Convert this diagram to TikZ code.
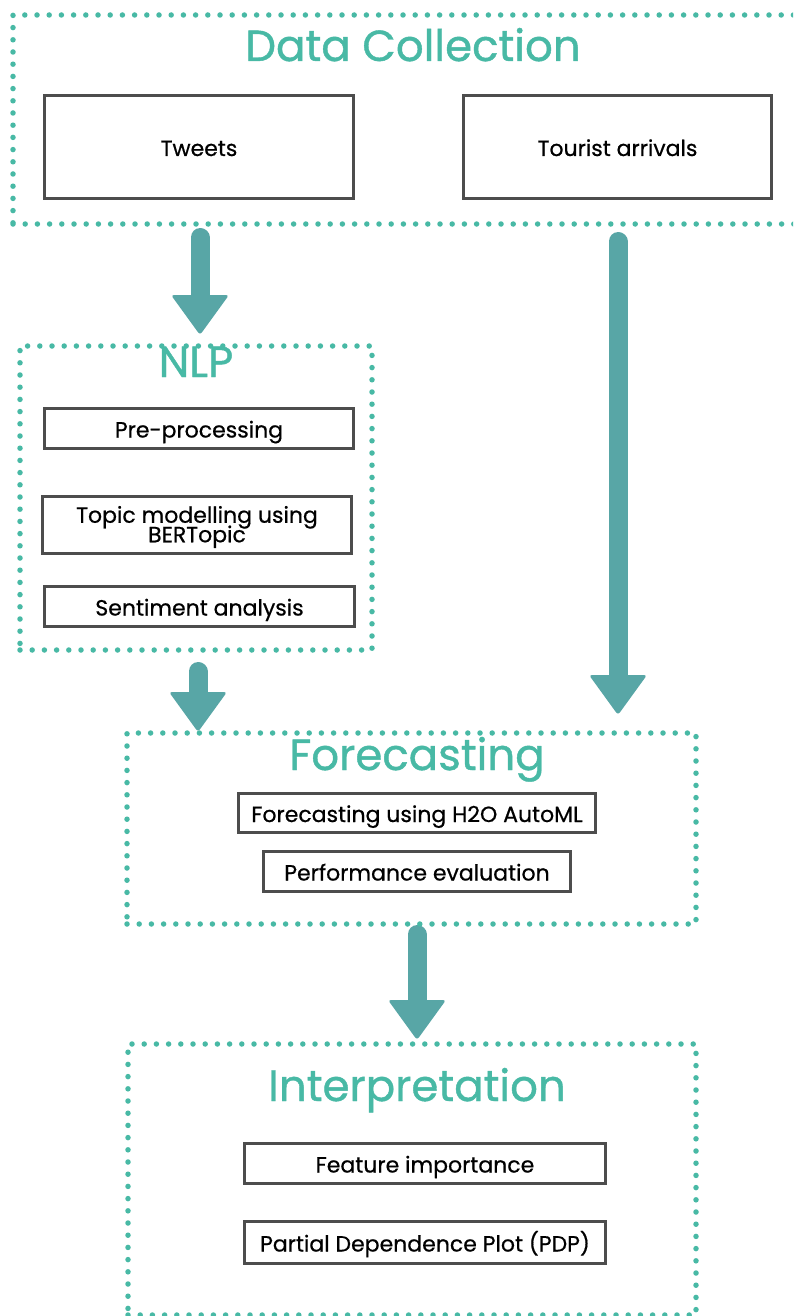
\documentclass[tikz,border=0pt]{standalone}
\usepackage{fontspec}
\setmainfont{Poppins}
\newfontfamily\boxfont[FakeBold=0.6]{Poppins}
\newfontfamily\titlefont[FakeBold=0.9]{Poppins}
\usetikzlibrary{calc}
\definecolor{teal1}{HTML}{48B9A5}
\definecolor{arrowc}{HTML}{58A6A6}
\definecolor{boxc}{HTML}{4D4D4D}
\newcommand\fatarrow[2]{%
  \draw[line width=19pt, line cap=round, draw=arrowc] ($(#1)+(0,9.5)$) -- ($(#2)+(0,-36)$);
  \fill[arrowc, rounded corners=3pt] ($(#2)+(-29,-38)$) -- ($(#2)+(0,2)$) -- ($(#2)+(29,-38)$) -- cycle;
}
\begin{document}
\begin{tikzpicture}[x=1pt,y=-1pt,
  dotframe/.style={draw=teal1, line width=5.5pt, line cap=round, dash pattern=on 0pt off 12.2pt, inner sep=0pt},
  stepbox/.style={draw=boxc, line width=3pt, fill=white, font=\boxfont\fontsize{22}{19.5}\selectfont, text=black, align=center, inner sep=0pt, text height=20pt, text depth=2pt, execute at begin node={\lineskiplimit=-100pt\relax}},
  title/.style={text=teal1, font=\titlefont\fontsize{43.5}{46}\selectfont, inner sep=0pt, anchor=base},
]
\useasboundingbox (0,0) rectangle (793,1316);
\clip (0,0) rectangle (793,1316);
\fill[white] (0,0) rectangle (793,1316);

% arrows
\coordinate (a1s) at (200,228);
\coordinate (a1e) at (200,333);
\coordinate (a2s) at (198,662);
\coordinate (a2e) at (198,730);
\coordinate (a3s) at (618,232);
\coordinate (a3e) at (618,713);
\coordinate (a4s) at (417,925);
\coordinate (a4e) at (417,1038);
\fatarrow{a1s}{a1e}
\fatarrow{a2s}{a2e}
\fatarrow{a3s}{a3e}
\fatarrow{a4s}{a4e}

% frames
\node[dotframe, minimum width=792pt, minimum height=209pt] (dcf) at (409,119.5) {};
\node[dotframe, minimum width=352pt, minimum height=304pt] (nlpf) at (196,498) {};
\node[dotframe, minimum width=569pt, minimum height=191pt] (fcf) at (411.5,828.5) {};
\node[dotframe, minimum width=568pt, minimum height=271pt] (inf) at (412,1179.5) {};

% titles
\node[title] (dct) at (413,61) {Data Collection};
\node[title] (nlpt) at (196,377) {NLP};
\node[title] (fct) at (417,770) {Forecasting};
\node[title] (int) at (417,1101) {Interpretation};

% boxes
\node[stepbox, minimum width=309pt, minimum height=103pt] (tweets) at (199,147) {Tweets};
\node[stepbox, minimum width=308pt, minimum height=103pt] (tourist) at (617.5,147) {Tourist arrivals};
\node[stepbox, minimum width=309pt, minimum height=40pt] (pre) at (199,428.5) {Pre-processing};
\node[stepbox, minimum width=309pt, minimum height=57pt, text height=36.5pt] (topic) at (197,525) {Topic modelling using\\BERTopic};
\node[stepbox, minimum width=310pt, minimum height=40pt] (sent) at (199.5,606.5) {Sentiment analysis};
\node[stepbox, minimum width=357pt, minimum height=39pt] (h2o) at (417,813) {Forecasting using H2O AutoML};
\node[stepbox, minimum width=307pt, minimum height=40pt] (perf) at (417,871.5) {Performance evaluation};
\node[stepbox, minimum width=361pt, minimum height=40pt] (feat) at (425,1163.5) {Feature importance};
\node[stepbox, minimum width=361pt, minimum height=42pt] (pdp) at (425,1242.5) {Partial Dependence Plot (PDP)};
\end{tikzpicture}
\end{document}
